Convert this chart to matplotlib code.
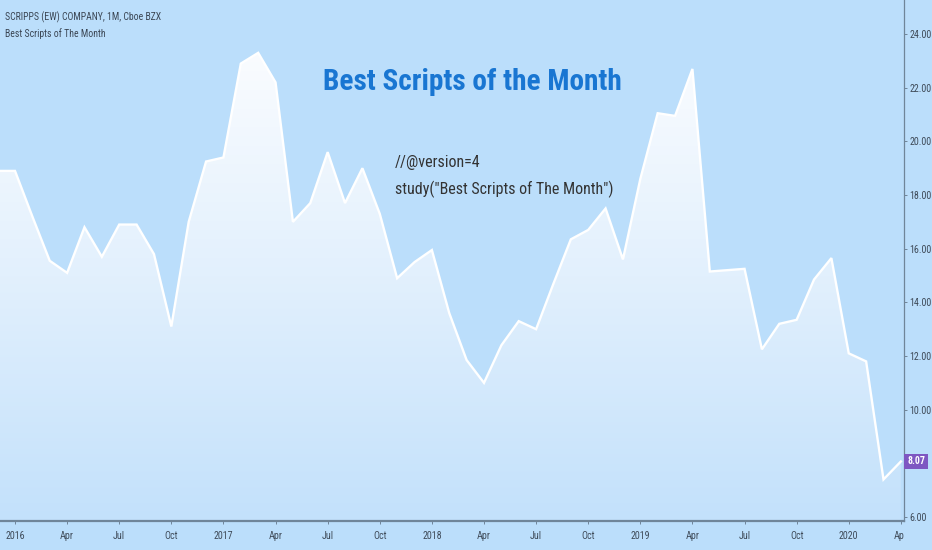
import matplotlib
matplotlib.use('Agg')
import matplotlib.pyplot as plt
import numpy as np
from matplotlib import font_manager
from matplotlib.colors import LinearSegmentedColormap
from matplotlib.transforms import Bbox, TransformedBbox

# 选一个窄字体 (截图是横向压缩的)
installed = set(f.name for f in font_manager.fontManager.ttflist)
narrow = [n for n in ['Roboto Condensed', 'PT Sans Narrow', 'Archivo Narrow',
                      'Liberation Sans Narrow', 'Open Sans Condensed', 'Arimo']
          if n in installed]
plt.rcParams['font.family'] = narrow[:1] + ['Liberation Sans', 'DejaVu Sans']

# 月度收盘价, 2015-12 到 2020-04 (月序号 -1 = 2015-12, 0 = 2016-01)
months = list(range(-1, 52))
closes = [18.9,
          18.9, 17.2, 15.55, 15.1, 16.8, 15.7, 16.9, 16.9, 15.8, 13.1, 17.0, 19.25,
          19.4, 22.9, 23.3, 22.2, 17.0, 17.7, 19.6, 17.7, 19.0, 17.3, 14.9, 15.5,
          15.95, 13.6, 11.85, 11.0, 12.4, 13.3, 13.0, 14.7, 16.35, 16.7, 17.5, 15.6,
          18.6, 21.05, 20.95, 22.7, 15.15, 15.2, 15.25, 12.25, 13.2, 13.35, 14.85, 15.65,
          12.1, 11.8, 7.4, 8.07]
last_price = 8.07

x_ticks = list(range(0, 52, 3))
x_labels = ['2016', 'Apr', 'Jul', 'Oct', '2017', 'Apr', 'Jul', 'Oct',
            '2018', 'Apr', 'Jul', 'Oct', '2019', 'Apr', 'Jul', 'Oct', '2020', 'Apr']
y_ticks = [6, 10, 12, 14, 16, 18, 20, 22, 24]

bg = '#BBDEFB'
axis_col = '#6f8599'
text_col = '#3f4b59'

fig = plt.figure(figsize=(9.32, 5.5), dpi=100, facecolor=bg)
ax = fig.add_axes([0, 29.5 / 550, 904 / 932, 520.5 / 550])
ax.set_facecolor(bg)

xmin, xmax = -15 / 17.37, (904 - 15) / 17.37
ymin, ymax = 5.87, 25.27
ax.set_xlim(xmin, xmax)
ax.set_ylim(ymin, ymax)

# 渐变填充
cmap = LinearSegmentedColormap.from_list('grad', ['#C3E1FB', '#E2F0FD', '#FCFDFF'])
grad = np.linspace(0, 1, 256).reshape(-1, 1)
im = ax.imshow(grad, cmap=cmap, aspect='auto', origin='lower',
               extent=[xmin, xmax, ymin, 24.0], zorder=1)
poly = ax.fill_between(months, closes, ymin, facecolor='none', edgecolor='none')
im.set_clip_path(poly.get_paths()[0], transform=ax.transData)

ax.plot(months, closes, color='white', lw=1.7, zorder=3, solid_joinstyle='miter')

# 坐标轴
for s in ['top', 'left']:
    ax.spines[s].set_visible(False)
ax.spines['right'].set_color(axis_col)
ax.spines['right'].set_linewidth(0.9)
ax.spines['bottom'].set_color(axis_col)
ax.spines['bottom'].set_linewidth(1.6)

ax.yaxis.tick_right()
ax.set_yticks(y_ticks)
ax.set_yticklabels([f'{v:.2f}' for v in y_ticks])
ax.tick_params(axis='y', length=2.5, width=0.7, color=axis_col, pad=1.5,
               labelsize=7.2, labelcolor=text_col)
ax.set_xticks(x_ticks)
ax.set_xticklabels(x_labels)
ax.tick_params(axis='x', length=2.5, width=0.7, color=axis_col, pad=5,
               labelsize=7.2, labelcolor=text_col)

clip = TransformedBbox(Bbox([[0, 0], [904 / 932, 1]]), fig.transFigure)
for lab in ax.get_xticklabels():
    lab.set_clip_box(clip)
    lab.set_clip_on(True)

# 最新价格标签
ax.text(1 + 3 / 904, last_price, f'{last_price:.2f}', transform=ax.get_yaxis_transform(),
        ha='left', va='center', fontsize=7, color='white', fontweight='bold',
        bbox=dict(boxstyle='square,pad=0.3', fc='#7E57C2', ec='none'), clip_on=False, zorder=5)

# 文字
t1 = fig.text(5 / 932, 1 - 17 / 550, 'SCRIPPS (EW) COMPANY, 1M, Cboe BZX', fontsize=7,
              color='#3b4654', ha='left', va='center')
t2 = fig.text(5 / 932, 1 - 34 / 550, 'Best Scripts of The Month', fontsize=7,
              color='#3b4654', ha='left', va='center')
t3 = fig.text(472 / 932, 1 - 82 / 550, 'Best Scripts of the Month', fontsize=24,
              fontweight='bold', color='#1976D2', ha='center', va='center')
t4 = fig.text(395 / 932, 1 - 163 / 550, '//@version=4', fontsize=13,
              color='#333333', ha='left', va='center')
t5 = fig.text(395 / 932, 1 - 189 / 550, 'study("Best Scripts of The Month")', fontsize=13,
              color='#333333', ha='left', va='center')

# 按参考图的宽度调整字号 (稍放大一点, 参考图的字形更窄更高)
renderer = fig.canvas.get_renderer()
for t, w in [(t3, 300), (t5, 218)]:
    cur = t.get_window_extent(renderer).width
    t.set_fontsize(t.get_fontsize() * w / cur)
t4.set_fontsize(t5.get_fontsize())

fig.savefig('out.png', dpi=100, facecolor=bg)
